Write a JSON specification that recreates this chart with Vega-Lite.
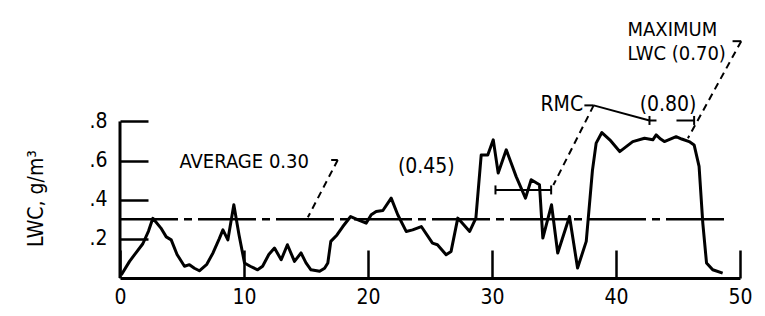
{
  "$schema": "https://vega.github.io/schema/vega-lite/v6.json",
  "width": 620,
  "height": 274,
  "autosize": "none",
  "padding": {"left": 120, "top": 4, "right": 25, "bottom": 38},
  "background": "white",
  "config": {"view": {"stroke": null}, "font": "Liberation Sans Narrow, DejaVu Sans Condensed, Liberation Sans"},
  "datasets": {
    "lwc": [
      {"x": 0.1, "y": 0.015}, {"x": 0.77, "y": 0.085}, {"x": 1.3, "y": 0.13}, {"x": 1.84, "y": 0.175},
      {"x": 2.3, "y": 0.24}, {"x": 2.65, "y": 0.305}, {"x": 3.3, "y": 0.255}, {"x": 3.73, "y": 0.21},
      {"x": 4.13, "y": 0.195}, {"x": 4.6, "y": 0.12}, {"x": 5.2, "y": 0.06}, {"x": 5.6, "y": 0.068},
      {"x": 6.0, "y": 0.05}, {"x": 6.4, "y": 0.037}, {"x": 7.0, "y": 0.07}, {"x": 7.5, "y": 0.128},
      {"x": 8.0, "y": 0.2}, {"x": 8.3, "y": 0.246}, {"x": 8.7, "y": 0.195}, {"x": 9.18, "y": 0.374},
      {"x": 9.6, "y": 0.22}, {"x": 10.04, "y": 0.077}, {"x": 10.5, "y": 0.06}, {"x": 11.1, "y": 0.042},
      {"x": 11.5, "y": 0.06}, {"x": 12.0, "y": 0.12}, {"x": 12.46, "y": 0.153}, {"x": 13.0, "y": 0.093},
      {"x": 13.5, "y": 0.17}, {"x": 14.07, "y": 0.085}, {"x": 14.6, "y": 0.128}, {"x": 15.0, "y": 0.077},
      {"x": 15.4, "y": 0.042}, {"x": 16.1, "y": 0.034}, {"x": 16.5, "y": 0.05}, {"x": 16.76, "y": 0.077},
      {"x": 17.0, "y": 0.187}, {"x": 17.5, "y": 0.22}, {"x": 17.97, "y": 0.263}, {"x": 18.6, "y": 0.314},
      {"x": 19.2, "y": 0.297}, {"x": 19.85, "y": 0.28}, {"x": 20.26, "y": 0.323}, {"x": 20.66, "y": 0.34},
      {"x": 21.2, "y": 0.345}, {"x": 21.87, "y": 0.408}, {"x": 22.4, "y": 0.323}, {"x": 23.08, "y": 0.238},
      {"x": 23.6, "y": 0.246}, {"x": 24.3, "y": 0.263}, {"x": 25.2, "y": 0.178}, {"x": 25.6, "y": 0.17},
      {"x": 26.3, "y": 0.119}, {"x": 26.7, "y": 0.136}, {"x": 27.24, "y": 0.306}, {"x": 28.2, "y": 0.238},
      {"x": 28.7, "y": 0.306}, {"x": 29.13, "y": 0.629}, {"x": 29.66, "y": 0.629}, {"x": 30.1, "y": 0.706},
      {"x": 30.5, "y": 0.536}, {"x": 31.15, "y": 0.655}, {"x": 31.95, "y": 0.518}, {"x": 32.7, "y": 0.408},
      {"x": 33.16, "y": 0.502}, {"x": 33.83, "y": 0.476}, {"x": 34.1, "y": 0.204}, {"x": 34.8, "y": 0.374},
      {"x": 35.3, "y": 0.128}, {"x": 36.25, "y": 0.314}, {"x": 36.9, "y": 0.051}, {"x": 37.6, "y": 0.187},
      {"x": 38.1, "y": 0.55}, {"x": 38.4, "y": 0.689}, {"x": 38.86, "y": 0.743}, {"x": 39.5, "y": 0.706},
      {"x": 40.3, "y": 0.646}, {"x": 41.35, "y": 0.697}, {"x": 42.3, "y": 0.714}, {"x": 42.97, "y": 0.706},
      {"x": 43.24, "y": 0.731}, {"x": 43.6, "y": 0.71}, {"x": 43.9, "y": 0.697}, {"x": 44.85, "y": 0.722},
      {"x": 45.3, "y": 0.71}, {"x": 45.9, "y": 0.697}, {"x": 46.3, "y": 0.68}, {"x": 46.7, "y": 0.57},
      {"x": 47.0, "y": 0.28}, {"x": 47.3, "y": 0.077}, {"x": 47.8, "y": 0.042}, {"x": 48.6, "y": 0.025}
    ],
    "yaxisline": [{"x": 0, "x2": 0, "y": 0, "y2": 0.8}],
    "average": [{"x": 0, "x2": 48.9, "y": 0.3, "y2": 0.3}],
    "solidLeaders": [
      {"x": 17.03, "y": 0.603, "x2": 17.56, "y2": 0.603},
      {"x": 37.45, "y": 0.882, "x2": 38.2, "y2": 0.882},
      {"x": 38.2, "y": 0.882, "x2": 42.7, "y2": 0.805},
      {"x": 49.4, "y": 1.21, "x2": 50.1, "y2": 1.21},
      {"x": 30.28, "y": 0.45, "x2": 34.77, "y2": 0.45}
    ],
    "dashedLeaders": [
      {"x": 17.56, "y": 0.603, "x2": 15.15, "y2": 0.31},
      {"x": 38.2, "y": 0.882, "x2": 34.95, "y2": 0.475},
      {"x": 50.1, "y": 1.21, "x2": 45.8, "y2": 0.714}
    ],
    "rmcBar": [{"x": 42.7, "y": 0.805, "x2": 46.3, "y2": 0.805}],
    "caps": [{"x": 30.28, "y": 0.45}, {"x": 34.77, "y": 0.45}, {"x": 42.7, "y": 0.805}, {"x": 46.3, "y": 0.805}],
    "textLeft": [
      {"x": 4.8, "y": 0.595, "label": ["AVERAGE 0.30"]},
      {"x": 40.93, "y": 1.268, "label": ["MAXIMUM", "LWC (0.70)"]}
    ],
    "textCenter": [
      {"x": 24.7, "y": 0.569, "label": "(0.45)"},
      {"x": 44.2, "y": 0.885, "label": "(0.80)"}
    ],
    "textRight": [
      {"x": 37.35, "y": 0.885, "label": "RMC"}
    ]
  },
  "layer": [
    {
      "data": {"name": "average"},
      "mark": {"type": "rule", "color": "black", "strokeWidth": 2.5, "strokeDash": [58, 6, 8, 6]},
      "encoding": {
        "x": {"field": "x", "type": "quantitative", "scale": {"domain": [0, 50], "nice": false, "zero": false},
          "axis": {"values": [0, 10, 20, 30, 40, 50], "title": null, "grid": false, "domain": true, "domainColor": "black", "domainWidth": 3,
            "ticks": true, "tickSize": -28, "tickWidth": 2.5, "tickColor": "black",
            "labelFontSize": 21, "labelColor": "black", "labelPadding": 36, "labelFlush": false}},
        "x2": {"field": "x2"},
        "y": {"field": "y", "type": "quantitative", "scale": {"domain": [0, 1.4], "nice": false},
          "axis": {"values": [0.2, 0.4, 0.6, 0.8], "title": "LWC, g/m³", "grid": false, "domain": false,
            "ticks": true, "tickSize": -28, "tickWidth": 2.5, "tickColor": "black",
            "labelFontSize": 21, "labelColor": "black", "labelPadding": 41, "labelFlush": false,
            "labelExpr": "replace(format(datum.value, '.1f'), '0.', '.')",
            "titleFontSize": 21, "titleFontWeight": "normal", "titleColor": "black",
            "titleAngle": -90, "titleX": -84, "titleY": 194, "titleAlign": "center", "titleBaseline": "middle"}},
        "y2": {"field": "y2"}
      }
    },
    {
      "data": {"name": "yaxisline"},
      "mark": {"type": "rule", "color": "black", "strokeWidth": 3},
      "encoding": {
        "x": {"field": "x", "type": "quantitative"}, "x2": {"field": "x2"},
        "y": {"field": "y", "type": "quantitative"}, "y2": {"field": "y2"}
      }
    },
    {
      "data": {"name": "lwc"},
      "mark": {"type": "line", "color": "black", "strokeWidth": 3, "strokeJoin": "round"},
      "encoding": {
        "x": {"field": "x", "type": "quantitative"},
        "y": {"field": "y", "type": "quantitative"}
      }
    },
    {
      "data": {"name": "solidLeaders"},
      "mark": {"type": "rule", "color": "black", "strokeWidth": 2},
      "encoding": {
        "x": {"field": "x", "type": "quantitative"}, "x2": {"field": "x2"},
        "y": {"field": "y", "type": "quantitative"}, "y2": {"field": "y2"}
      }
    },
    {
      "data": {"name": "dashedLeaders"},
      "mark": {"type": "rule", "color": "black", "strokeWidth": 2, "strokeDash": [7, 5]},
      "encoding": {
        "x": {"field": "x", "type": "quantitative"}, "x2": {"field": "x2"},
        "y": {"field": "y", "type": "quantitative"}, "y2": {"field": "y2"}
      }
    },
    {
      "data": {"name": "rmcBar"},
      "mark": {"type": "rule", "color": "black", "strokeWidth": 2, "strokeDash": [7, 20, 18, 60]},
      "encoding": {
        "x": {"field": "x", "type": "quantitative"}, "x2": {"field": "x2"},
        "y": {"field": "y", "type": "quantitative"}, "y2": {"field": "y2"}
      }
    },
    {
      "data": {"name": "caps"},
      "mark": {"type": "tick", "color": "black", "orient": "vertical", "size": 9, "thickness": 2, "opacity": 1},
      "encoding": {
        "x": {"field": "x", "type": "quantitative"},
        "y": {"field": "y", "type": "quantitative"}
      }
    },
    {
      "data": {"name": "textLeft"},
      "mark": {"type": "text", "align": "left", "baseline": "middle", "fontSize": 20, "lineHeight": 24, "color": "black"},
      "encoding": {
        "x": {"field": "x", "type": "quantitative"},
        "y": {"field": "y", "type": "quantitative"},
        "text": {"field": "label"}
      }
    },
    {
      "data": {"name": "textCenter"},
      "mark": {"type": "text", "align": "center", "baseline": "middle", "fontSize": 21, "color": "black"},
      "encoding": {
        "x": {"field": "x", "type": "quantitative"},
        "y": {"field": "y", "type": "quantitative"},
        "text": {"field": "label"}
      }
    },
    {
      "data": {"name": "textRight"},
      "mark": {"type": "text", "align": "right", "baseline": "middle", "fontSize": 21, "color": "black"},
      "encoding": {
        "x": {"field": "x", "type": "quantitative"},
        "y": {"field": "y", "type": "quantitative"},
        "text": {"field": "label"}
      }
    }
  ]
}
